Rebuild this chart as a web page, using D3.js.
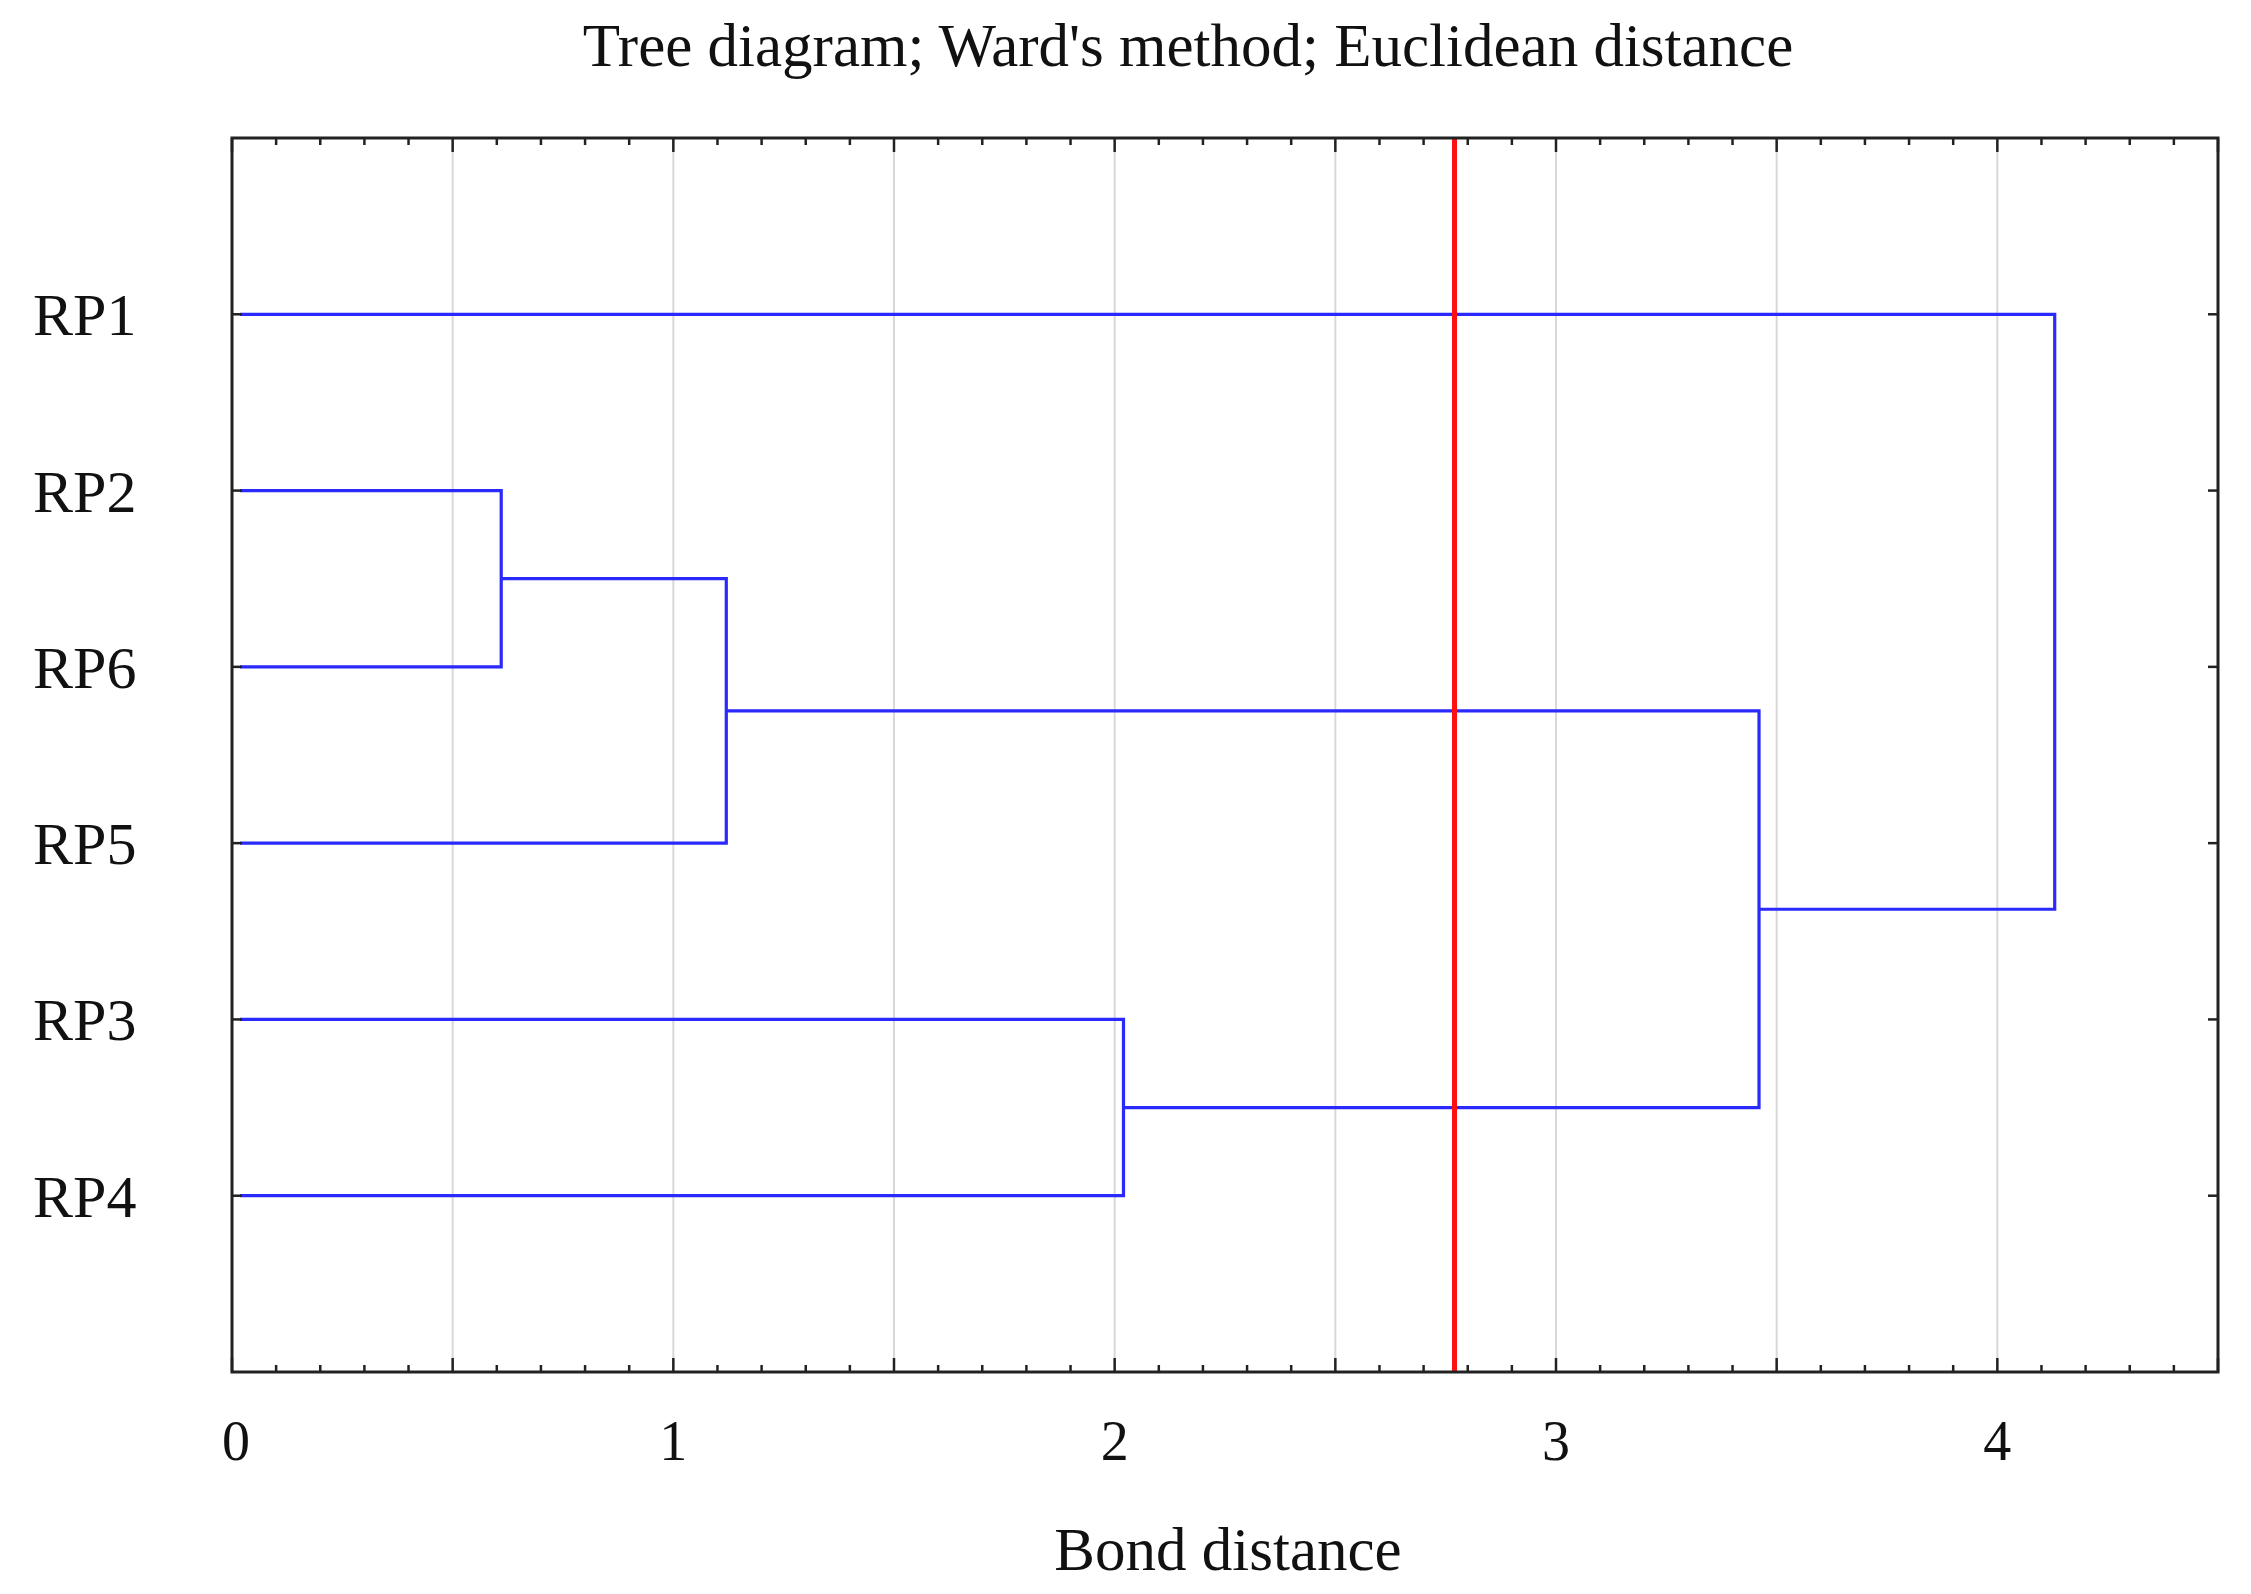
<!DOCTYPE html>
<html><head><meta charset="utf-8">
<script src="https://cdn.jsdelivr.net/npm/d3@7"></script>
<style>body{margin:0;background:#fff}</style>
</head><body>
<svg id="c" width="2251" height="1594"></svg>
<script>
const leaves = ["RP1","RP2","RP6","RP5","RP3","RP4"];
// merges: [childA, childB, height]
const mergeA = ["RP2","C1","RP3","C2","RP1"];
const mergeB = ["RP6","RP5","RP4","C3","C4"];
const mergeH = [0.61, 1.12, 2.02, 3.46, 4.13];
const mergeNames = ["C1","C2","C3","C4","C5"];
const cutoff = 2.77;
const xTicks = [0,1,2,3,4];

const svg = d3.select("#c");
const L=232,R=2218,T=138,B=1372;
const x = d3.scaleLinear().domain([0,4.5]).range([L,R]);
const y = d3.scalePoint().domain(["_t",...leaves,"_b"]).range([T,B]);
const font="'Liberation Serif','DejaVu Serif',serif";

// grid
svg.append("g").selectAll("line").data(d3.range(0.5,4.5,0.5)).join("line")
 .attr("x1",d=>x(d)).attr("x2",d=>x(d)).attr("y1",T).attr("y2",B)
 .attr("stroke","#d8d8d8").attr("stroke-width",2);

// dendrogram
const pos = {}; leaves.forEach(l=>pos[l]={x:0,y:y(l)});
const g = svg.append("g").attr("fill","none").attr("stroke","#2a2aff").attr("stroke-width",3.2);
mergeNames.forEach((n,i)=>{
  const a=pos[mergeA[i]], b=pos[mergeB[i]], h=mergeH[i];
  g.append("path").attr("d",`M${x(a.x)+(a.x===0?8:0)},${a.y}H${x(h)}V${b.y}H${x(b.x)+(b.x===0?8:0)}`);
  pos[n]={x:h,y:(a.y+b.y)/2};
});

// cutoff
svg.append("line").attr("x1",x(cutoff)).attr("x2",x(cutoff)).attr("y1",T).attr("y2",B)
 .attr("stroke","#ff1010").attr("stroke-width",5);

// frame
svg.append("rect").attr("x",L).attr("y",T).attr("width",R-L).attr("height",B-T)
 .attr("fill","none").attr("stroke","#222").attr("stroke-width",3);

// ticks
const minor = d3.range(0,4.51,0.1).map(v=>+v.toFixed(1));
const tg = svg.append("g").attr("stroke","#222").attr("stroke-width",2.5);
minor.forEach(v=>{
  const big = Math.abs(v*2-Math.round(v*2))<1e-6;
  const len = big?14:7;
  tg.append("line").attr("x1",x(v)).attr("x2",x(v)).attr("y1",B).attr("y2",B-len);
  tg.append("line").attr("x1",x(v)).attr("x2",x(v)).attr("y1",T).attr("y2",T+len);
});
leaves.forEach(l=>{
  tg.append("line").attr("x1",L).attr("x2",L+10).attr("y1",y(l)).attr("y2",y(l));
  tg.append("line").attr("x1",R).attr("x2",R-10).attr("y1",y(l)).attr("y2",y(l));
});

// labels
svg.append("g").selectAll("text").data(leaves).join("text")
 .attr("x",33).attr("y",d=>y(d)).attr("dy","0.35em").text(d=>d)
 .attr("font-family",font).attr("font-size",60).attr("fill","#111");
svg.append("g").selectAll("text").data(xTicks).join("text")
 .attr("x",d=>x(d)+(d===0?4:0)).attr("y",1460).attr("text-anchor","middle").text(d=>d)
 .attr("font-family",font).attr("font-size",56).attr("fill","#111");
svg.append("text").attr("x",1188).attr("y",66).attr("text-anchor","middle")
 .text("Tree diagram; Ward's method; Euclidean distance")
 .attr("font-family",font).attr("font-size",61).attr("fill","#111");
svg.append("text").attr("x",1228).attr("y",1570).attr("text-anchor","middle")
 .text("Bond distance").attr("font-family",font).attr("font-size",61).attr("fill","#111");
</script>
</body></html>
